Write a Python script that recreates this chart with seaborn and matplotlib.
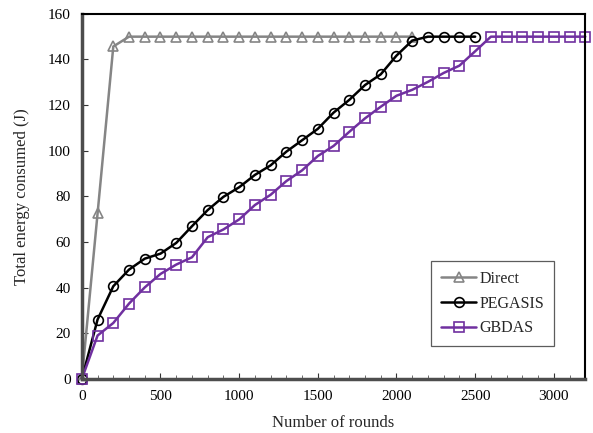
import numpy as np
import pandas as pd
import matplotlib
matplotlib.use("Agg")
import matplotlib.pyplot as plt
import seaborn as sns

# Rounds sampled every 100
direct_rounds = list(range(0, 2200, 100))
direct_energy = [0, 72.5, 145.7] + [150] * 19

pegasis_rounds = list(range(0, 2600, 100))
pegasis_energy = [0, 26.0, 40.6, 47.9, 52.7, 54.9, 59.6, 66.9, 74.0, 79.8, 84.0,
                  89.4, 93.6, 99.6, 104.6, 109.6, 116.7, 122.3, 128.8, 133.5,
                  141.7, 148.3, 150, 150, 150, 150]

gbdas_rounds = list(range(0, 3300, 100))
gbdas_energy = [0, 19.0, 24.5, 33.0, 40.1, 46.0, 50.1, 53.3, 62.1, 65.5, 69.9,
                76.2, 80.7, 86.7, 91.4, 97.7, 102.1, 108.3, 114.2, 119.3, 124.1,
                126.7, 130.2, 134.1, 137.3, 143.6, 150, 150, 150, 150, 150, 150, 150]

x_ticks = [0, 500, 1000, 1500, 2000, 2500, 3000]
y_ticks = [0, 20, 40, 60, 80, 100, 120, 140, 160]

sns.set_theme(style="white")
plt.rcParams["font.family"] = ["Liberation Serif", "DejaVu Serif"]

fig = plt.figure(figsize=(5.93, 4.33), dpi=100)
ax = fig.add_axes([0.138, 0.125, 0.849, 0.843])

series = [
    ("Direct", direct_rounds, direct_energy, "#858585", "^"),
    ("PEGASIS", pegasis_rounds, pegasis_energy, "#000000", "o"),
    ("GBDAS", gbdas_rounds, gbdas_energy, "#7030A0", "s"),
]
for name, xr, ye, col, mk in series:
    df = pd.DataFrame({"rounds": xr, "energy": ye})
    sns.lineplot(data=df, x="rounds", y="energy", ax=ax, color=col, marker=mk,
                 markersize=7, markerfacecolor="none", markeredgecolor=col,
                 markeredgewidth=1.2, linewidth=1.8, label=name, clip_on=False)

ax.set_xlim(0, 3200)
ax.set_ylim(0, 160)
ax.set_xticks(x_ticks)
ax.set_yticks(y_ticks)
ax.set_xticks(range(0, 3201, 100), minor=True)
ax.tick_params(axis="both", which="major", direction="in", length=4, width=0.8,
               labelsize=11, colors="#333333", labelcolor="black", pad=8)
ax.tick_params(axis="x", which="minor", direction="in", length=3, width=0.6,
               colors="#555555", bottom=True)
ax.tick_params(axis="y", which="major", left=True)
ax.tick_params(axis="x", which="major", bottom=True)

for side in ("top", "right"):
    ax.spines[side].set_color("black")
    ax.spines[side].set_linewidth(1.5)
for side in ("left", "bottom"):
    ax.spines[side].set_color("#4d4d4d")
    ax.spines[side].set_linewidth(2.5)

ax.set_xlabel("Number of rounds", fontsize=12, labelpad=9)
ax.set_ylabel("Total energy consumed (J)", fontsize=12, labelpad=13)

leg = ax.legend(loc="lower right", bbox_to_anchor=(0.953, 0.068), fontsize=11.5,
                frameon=True, fancybox=False, edgecolor="#333333",
                handlelength=2.2, handletextpad=0.2, borderpad=0.6,
                labelspacing=0.55)
leg.get_frame().set_linewidth(0.9)

fig.savefig("out.png", dpi=100)
